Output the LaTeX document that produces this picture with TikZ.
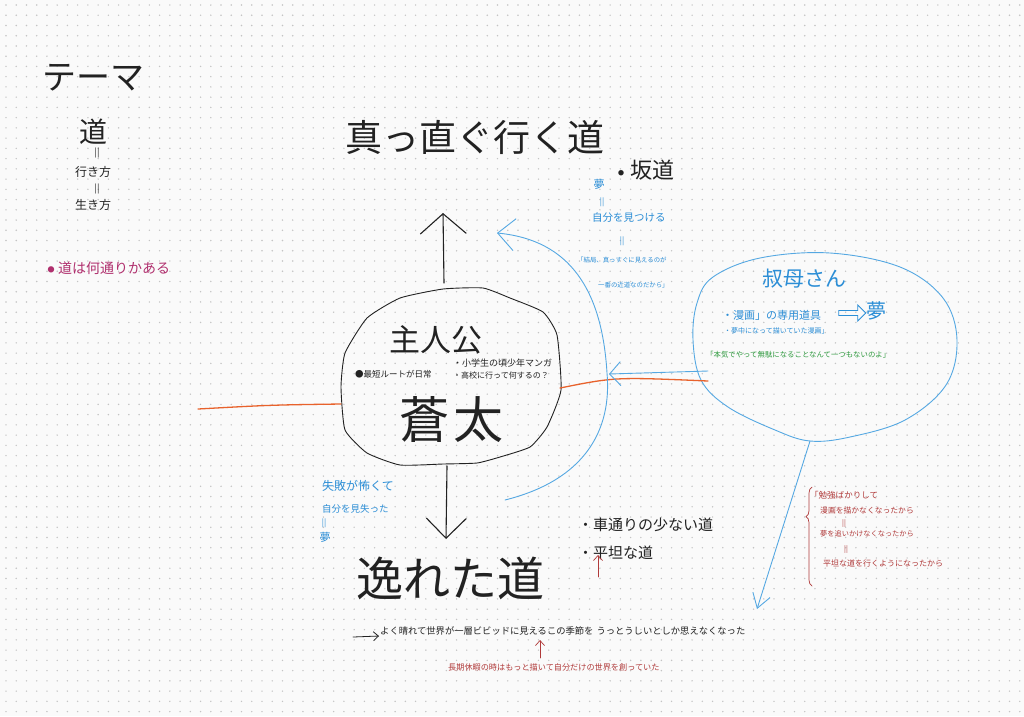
\documentclass[tikz,border=0pt]{standalone}
\usepackage{fontspec}
\newfontfamily\jp{Noto Sans CJK JP}
\usetikzlibrary{arrows.meta,decorations.pathreplacing,shapes.arrows}
\definecolor{bg}{HTML}{FAFAFA}
\definecolor{dotc}{HTML}{C4C4C4}
\definecolor{ink}{HTML}{222222}
\definecolor{bl}{HTML}{55A8E2}
\definecolor{blt}{HTML}{2C8ED6}
\definecolor{mag}{HTML}{B0306E}
\definecolor{rd}{HTML}{B03A3A}
\definecolor{gr}{HTML}{2E9A3E}
\definecolor{org}{HTML}{E8622C}
\newcommand{\fsz}[1]{\fontsize{#1}{#1}\selectfont}
\begin{document}
\begin{tikzpicture}[x=1pt,y=-1pt,
  txt/.style={inner sep=0pt, font=\jp, text=ink},
  btxt/.style={txt, text=blt},
  rtxt/.style={txt, text=rd},
  blk/.style={draw=ink, line width=1.1pt, line cap=round},
  bline/.style={draw=bl, line width=0.9pt, line cap=round},
  oline/.style={draw=org, line width=1.3pt, line cap=round},
  rline/.style={draw=rd, line width=0.7pt, line cap=round}]
\fill[bg] (0,0) rectangle (1024,716);
\useasboundingbox (0,0) rectangle (1024,716);
\foreach \i in {0,...,99} {\foreach \j in {0,...,69} {\fill[dotc] (6+\i*10.24, 5+\j*10.24) circle (0.8);}}

% theme column
\node[txt,anchor=west,font=\jp\fsz{34}] (theme) at (42,78) {テーマ};
\node[txt,font=\jp\fsz{28}] (michi) at (93,132) {道};
\node[txt,font=\jp\fsz{9}] (eq1) at (97,153) {||};
\node[txt,font=\jp\fsz{12}] (ikikata) at (93,172) {行き方};
\node[txt,font=\jp\fsz{9}] (eq2) at (97,189) {||};
\node[txt,font=\jp\fsz{12}] (ikikata2) at (93,205) {生き方};
\node[txt,text=mag,font=\jp\fsz{7}] (magb) at (51,270) {●};
\node[txt,text=mag,anchor=west,font=\jp\fsz{14}] (nanto) at (58,268) {道は何通りかある};

% straight road
\node[txt,anchor=west,font=\jp\fsz{37}] (straight) at (345,137) {真っ直ぐ行く道};
\node[txt,font=\jp\fsz{6}] (sakab) at (621,173) {●};
\node[txt,anchor=west,font=\jp\fsz{22}] (saka) at (630,170) {坂道};
\node[btxt,font=\jp\fsz{11}] (yume1) at (599,184) {夢};
\node[btxt,font=\jp\fsz{8}] (beq1) at (602,202) {||};
\node[btxt,anchor=west,font=\jp\fsz{10.5}] (jibun) at (592,218) {自分を見つける};
\node[btxt,font=\jp\fsz{8}] (beq2) at (622,241) {||};
\node[btxt,anchor=west,font=\jp\fsz{6.4}] (kekkyoku1) at (577,260) {「結局、真っすぐに見えるのが};
\node[btxt,anchor=west,font=\jp\fsz{6.4}] (kekkyoku2) at (598,285) {一番の近道なのだから」};

% main character
\draw[blk, line width=0.9pt] plot[smooth cycle, tension=0.3] coordinates {(367,318) (400,298) (443,289) (483,288) (510,298) (543,312) (557,335) (561,390) (547,427) (530,447) (500,457) (477,463) (443,464) (400,465) (367,453) (345,430) (341,387) (345,353)};
\node[txt,anchor=west,font=\jp\fsz{31}] (shujinko) at (389,340) {主人公};
\node[txt,anchor=west,font=\jp\fsz{8.5}] (saitan) at (355,374) {●最短ルートが日常};
\node[txt,anchor=west,font=\jp\fsz{9}] (shogaku) at (453,363) {・小学生の頃少年マンガ};
\node[txt,anchor=west,font=\jp\fsz{8}] (koko) at (453,375) {・高校に行って何するの？};
\node[txt,font=\jp\fsz{50}] (souta) at (451,420) {蒼\hspace{4pt}太};

% left blue notes
\node[btxt,anchor=west,font=\jp\fsz{12}] (shippai) at (322,486) {失敗が怖くて};
\node[btxt,anchor=west,font=\jp\fsz{9.5}] (miushi) at (322,509) {自分を見失った};
\node[btxt,font=\jp\fsz{8}] (beq3) at (324,523) {||};
\node[btxt,font=\jp\fsz{11}] (yume2) at (325,537) {夢};

% deviated road
\node[txt,anchor=west,font=\jp\fsz{47}] (soreta) at (356,578) {逸れた道};
\node[txt,anchor=west,font=\jp\fsz{15}] (kuruma) at (578,525) {・車通りの少ない道};
\node[txt,anchor=west,font=\jp\fsz{15}] (heitan) at (578,553) {・平坦な道};
\node[txt,anchor=west,font=\jp\fsz{9.3}] (yoku) at (380,631) {よく晴れて世界が一層ビビッドに見えるこの季節を\hspace{3pt}うっとうしいとしか思えなくなった};
\node[rtxt,anchor=west,font=\jp\fsz{8.15}] (choki) at (448,667) {長期休暇の時はもっと描いて自分だけの世界を創っていた};

% aunt bubble
\draw[bline] plot[smooth cycle, tension=0.6] coordinates {(713,277) (760,258) (830,253) (900,267) (943,298) (957,340) (946,385) (905,420) (850,437) (810,441) (775,430) (728,407) (701,380) (693,340) (697,303)};
\node[btxt,anchor=west,font=\jp\fsz{21}] (oba) at (762,279) {叔母さん};
\node[btxt,anchor=west,font=\jp\fsz{11}] (manga1) at (722,315) {・漫画」の専用道具};
\node[single arrow, draw=blt, line width=0.8pt, minimum height=27pt, minimum width=16pt, single arrow head extend=3pt, inner sep=1pt] (dar) at (851,313) {};
\node[btxt,font=\jp\fsz{20}] (yume3) at (876,311) {夢};
\node[btxt,anchor=west,font=\jp\fsz{7}] (manga2) at (724,331) {・夢中になって描いていた漫画」};
\node[txt,text=gr,anchor=west,font=\jp\fsz{7.4}] (honki) at (706,355) {「本気でやって無駄になることなんて一つもないのよ」};

% red notes
\node[rtxt,anchor=west,font=\jp\fsz{8.5}] (benkyo) at (810,495) {「勉強ばかりして};
\node[rtxt,anchor=west,font=\jp\fsz{7.8}] (r1) at (820,511) {漫画を描かなくなったから};
\node[rtxt,font=\jp\fsz{7}] (req1) at (844,524) {||};
\node[rtxt,anchor=west,font=\jp\fsz{7.2}] (r2) at (820,534) {夢を追いかけなくなったから};
\node[rtxt,font=\jp\fsz{7}] (req2) at (846,550) {||};
\node[rtxt,anchor=west,font=\jp\fsz{8}] (r3) at (823,563) {平坦な道を行くようになったから};
\coordinate (brB) at (812,586);
\coordinate (brT) at (812,487);
\draw[rline, decorate, decoration={brace, amplitude=6pt, aspect=0.7}] (brB) -- (brT);

% connectors
\coordinate (upS) at (444,283);
\coordinate (upT) at (443,213);
\draw[blk, -{Straight Barb[length=20pt,width=46pt,line width=1.1pt]}] (upS) -- (upT);
\coordinate (dnS) at (447,466);
\coordinate (dnT) at (446,539);
\draw[blk, -{Straight Barb[length=20pt,width=40pt,line width=1.1pt]}] (dnS) -- (dnT);
\coordinate (oL) at (198,409);
\coordinate (mainW) at (341,404);
\draw[oline] (oL) .. controls (270,405) .. (mainW);
\coordinate (mainE) at (560,388);
\coordinate (bubW) at (708,381);
\draw[oline] (mainE) .. controls (615,377) .. (bubW);
\coordinate (arcS) at (505,500);
\coordinate (arcT) at (497,233);
\draw[bline, -{Straight Barb[length=17pt,width=32pt,line width=0.9pt]}] (arcS) .. controls (585,480) and (612,430) .. (607,373) .. controls (602,290) and (570,240) .. (arcT);
\coordinate (bubL) at (708,371);
\coordinate (arcM) at (609,374);
\draw[bline, -{Straight Barb[length=11pt,width=24pt,line width=0.9pt]}] (bubL) -- (arcM);
\coordinate (bubS) at (810,441);
\coordinate (bubD) at (757,609);
\draw[bline, -{Straight Barb[length=14pt,width=18pt,line width=0.9pt]}] (bubS) -- (bubD);
\coordinate (arS) at (353,637);
\coordinate (arT) at (379,636);
\draw[blk, line width=0.8pt, -{Straight Barb[length=5pt,width=9pt,line width=0.8pt]}] (arS) -- (arT);
\coordinate (rA1) at (540,658);
\coordinate (rA2) at (540,640);
\draw[rline, -{Straight Barb[length=5pt,width=9pt,line width=0.7pt]}] (rA1) -- (rA2);
\coordinate (rB1) at (598,577);
\coordinate (rB2) at (598,555);
\draw[rline, -{Straight Barb[length=5pt,width=9pt,line width=0.7pt]}] (rB1) -- (rB2);
\end{tikzpicture}
\end{document}
